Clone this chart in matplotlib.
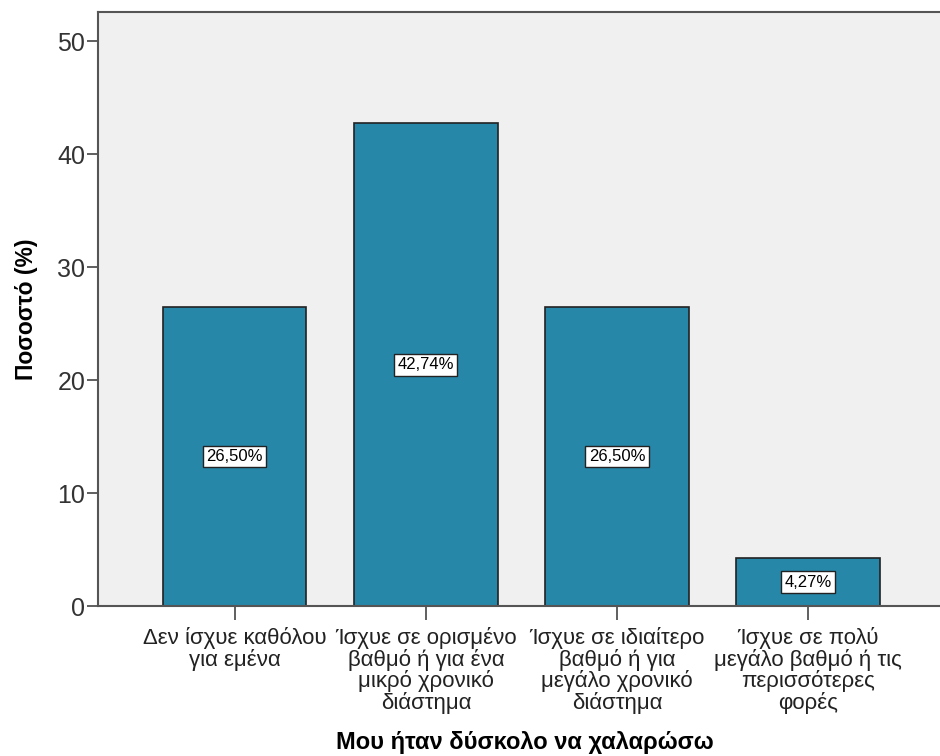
import matplotlib.pyplot as plt

# données
categories = [
    "Δεν ίσχυε καθόλου\nγια εμένα",
    "Ίσχυε σε ορισμένο\nβαθμό ή για ένα\nμικρό χρονικό\nδιάστημα",
    "Ίσχυε σε ιδιαίτερο\nβαθμό ή για\nμεγάλο χρονικό\nδιάστημα",
    "Ίσχυε σε πολύ\nμεγάλο βαθμό ή τις\nπερισσότερες\nφορές",
]
percentages = [26.50, 42.74, 26.50, 4.27]
yticks = [0, 10, 20, 30, 40, 50]

plt.rcParams["font.family"] = ["Liberation Sans", "DejaVu Sans"]

fig = plt.figure(figsize=(9.4, 7.56), dpi=100)
ax = fig.add_axes([0.104, 0.198, 0.896, 0.786])
ax.set_facecolor("#f0f0f0")

x = list(range(len(categories)))
bars = ax.bar(x, percentages, width=0.75, color="#2687a9",
              edgecolor="#222222", linewidth=1.2, zorder=2)

for xi, v in zip(x, percentages):
    label = f"{v:.2f}%".replace(".", ",")
    ax.text(xi, v / 2, label, ha="center", va="center", fontsize=12,
            color="black", zorder=3,
            bbox=dict(boxstyle="square,pad=0.2", facecolor="white",
                      edgecolor="#222222", linewidth=1))

ax.set_xlim(-0.717, 3.69)
ax.set_ylim(0, 52.6)
ax.set_yticks(yticks)
ax.set_xticks(x)
ax.set_xticklabels(categories, fontsize=16, color="#222222", linespacing=0.98)
ax.tick_params(axis="y", labelsize=18, labelcolor="#333333", length=8,
               width=1.2, color="#444444", pad=1)
ax.tick_params(axis="x", length=10, width=1.2, color="#444444", pad=5)

for side in ["left", "top", "bottom"]:
    ax.spines[side].set_color("#555555")
    ax.spines[side].set_linewidth(1.5)
ax.spines["right"].set_visible(False)

ax.set_ylabel("Ποσοστό (%)", fontsize=16.5, fontweight="bold", labelpad=14)
fig.text(0.558, 0.002, "Μου ήταν δύσκολο να χαλαρώσω", ha="center",
         va="bottom", fontsize=17, fontweight="bold")

fig.savefig("out.png", dpi=100)
